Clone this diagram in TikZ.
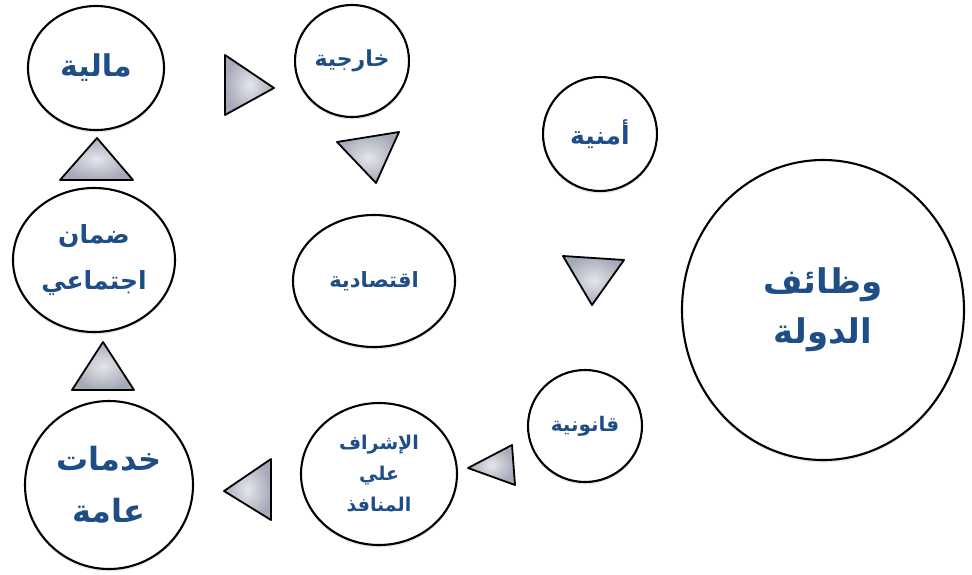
\documentclass[tikz,border=0pt]{standalone}
\usepackage{fontspec}
\newfontfamily\arabicfont[Script=Arabic]{DejaVu Sans}
\TeXXeTstate=1
\usetikzlibrary{shapes.geometric,shadows}
\definecolor{textblue}{HTML}{1F4E86}
\definecolor{trigray}{HTML}{A4AAB8}
\newcommand\ar[1]{\beginR #1\endR}
\tikzset{
	bubble/.style={ellipse, draw=black, line width=2.1pt, fill=white, inner sep=0pt, text=textblue, align=center,
		drop shadow={shadow xshift=0pt, shadow yshift=-2.5pt, opacity=0.18}},
	tri/.style={draw=black, line width=1.8pt, line join=round, inner color=white!70!trigray, outer color=trigray},
}

\begin{document}
\begin{tikzpicture}[x=1pt, y=-1pt]
			%%%%% START %%%%%
			\useasboundingbox (0,0) rectangle (972,574);
			
			\node[bubble, minimum width=136pt, minimum height=124pt, font=\arabicfont\bfseries\fontsize{30}{36}\selectfont] (maliya) at (96,68) {\ar{مالية}};
			\node[bubble, minimum width=114pt, minimum height=112pt, font=\arabicfont\bfseries\fontsize{22}{26}\selectfont] (kharijiya) at (352,61) {\ar{خارجية}};
			\node[bubble, minimum width=162pt, minimum height=144pt, font=\arabicfont\bfseries\fontsize{25}{46}\selectfont] (daman) at (94,260) {\ar{ضمان}\\\ar{اجتماعي}};
			\node[bubble, minimum width=162pt, minimum height=132pt, font=\arabicfont\bfseries\fontsize{21}{25}\selectfont] (iqtisadiya) at (374,281) {\ar{اقتصادية}};
			\node[bubble, minimum width=168pt, minimum height=168pt, font=\arabicfont\bfseries\fontsize{32}{52}\selectfont] (khadamat) at (109,485) {\ar{خدمات}\\\ar{عامة}};
			\node[bubble, minimum width=156pt, minimum height=142pt, font=\arabicfont\bfseries\fontsize{19}{31}\selectfont] (ishraf) at (379,474) {\ar{الإشراف}\\\ar{علي}\\\ar{المنافذ}};
			\node[bubble, minimum width=114pt, minimum height=114pt, font=\arabicfont\bfseries\fontsize{25}{30}\selectfont] (amniya) at (600,134) {\ar{أمنية}};
			\node[bubble, minimum width=282pt, minimum height=300pt, font=\arabicfont\bfseries\fontsize{34}{50}\selectfont] (wazaif) at (823,310) {\ar{وظائف}\\\ar{الدولة}};
			\node[bubble, minimum width=114pt, minimum height=112pt, font=\arabicfont\bfseries\fontsize{20}{24}\selectfont] (qanuniya) at (585,426) {\ar{قانونية}};
			
			% triangles
			\draw[tri] (225,55) -- (274,88) -- (225,115) -- cycle;
			\draw[tri] (337,142) -- (399,132) -- (376,183) -- cycle;
			\draw[tri] (60,180) -- (97,138) -- (133,180) -- cycle;
			\draw[tri] (72,390) -- (103,342) -- (134,390) -- cycle;
			\draw[tri] (271,459) -- (224,491) -- (271,520) -- cycle;
			\draw[tri] (563,256) -- (624,260) -- (592,305) -- cycle;
			\draw[tri] (512,445) -- (468,468) -- (515,485) -- cycle;
			
			%%%%% END %%%%%
\end{tikzpicture}
\end{document}
